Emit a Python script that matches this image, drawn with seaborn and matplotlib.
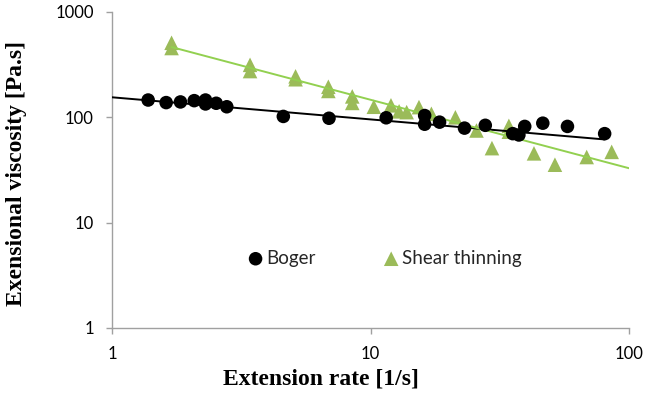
import numpy as np
import pandas as pd
import matplotlib
matplotlib.use("Agg")
import matplotlib.pyplot as plt
import seaborn as sns

# ---- data ----
boger_x = [1.38, 1.62, 1.84, 2.08, 2.30, 2.30, 2.53, 2.78, 4.60, 6.91, 11.5,
           16.2, 16.2, 18.5, 23.1, 27.8, 35.5, 37.5, 39.5, 46.4, 57.8, 80.5]
boger_y = [146, 138, 140, 144, 146, 134, 136, 126, 102, 98, 99,
           104, 86, 90, 79, 84, 70, 68, 82, 88, 82, 70]

shear_x = [1.70, 1.70, 3.42, 3.42, 5.13, 5.13, 6.87, 6.87, 8.5, 8.5, 10.3, 12.0,
           12.9, 13.8, 15.4, 17.2, 21.3, 25.7, 29.5, 34.3, 34.3, 42.9, 51.7, 68.6, 85.7]
shear_y = [510, 455, 315, 275, 245, 230, 195, 178, 158, 137, 126, 130,
           114, 112, 125, 108, 100, 75, 51, 83, 73, 45.5, 35.5, 42, 47]

# power-law trendlines y = a * x^b  (coefficient, exponent, x start, x end)
boger_trend = (155.0, -0.21, 1.0, 80.5)
shear_trend = (656.0, -0.65, 1.70, 100.0)

series_names = ["Boger", "Shear thinning"]
x_ticks = [1, 10, 100]
y_ticks = [1, 10, 100, 1000]
x_label = "Extension rate [1/s]"
y_label = "Exensional viscosity [Pa.s]"

# ---- styling ----
sns.set_theme(style="white")
plt.rcParams["font.family"] = ["Lato", "DejaVu Sans"]

BLACK = "#000000"
GREEN_PT = "#9BBB59"
GREEN_LN = "#92D050"
SPINE = "#A0A0A0"

W, H = 646, 397
fig = plt.figure(figsize=(W / 100, H / 100), dpi=100)
ax = fig.add_axes([112 / W, (H - 328) / H, 517 / W, 316 / H])

pts = pd.concat([
    pd.DataFrame({"x": boger_x, "y": boger_y, "series": series_names[0]}),
    pd.DataFrame({"x": shear_x, "y": shear_y, "series": series_names[1]}),
])


def trend_frame(params, name):
    a, b, x0, x1 = params
    xs = np.geomspace(x0, x1, 60)
    return pd.DataFrame({"x": xs, "y": a * xs ** b, "series": name})


lines = pd.concat([trend_frame(boger_trend, series_names[0]),
                   trend_frame(shear_trend, series_names[1])])

sns.lineplot(data=lines, x="x", y="y", hue="series",
             palette={series_names[0]: BLACK, series_names[1]: GREEN_LN},
             linewidth=1.4, legend=False, ax=ax, zorder=3)

sns.scatterplot(data=pts[pts.series == series_names[1]], x="x", y="y",
                marker="^", s=110, color=GREEN_PT, edgecolor="none",
                ax=ax, zorder=2, label=series_names[1])
sns.scatterplot(data=pts[pts.series == series_names[0]], x="x", y="y",
                marker="o", s=95, color=BLACK, edgecolor="none",
                ax=ax, zorder=4, label=series_names[0])

ax.set_xscale("log")
ax.set_yscale("log")
ax.set_xlim(1, 100)
ax.set_ylim(1, 1000)
ax.set_xticks(x_ticks)
ax.set_xticklabels([str(t) for t in x_ticks])
ax.set_yticks(y_ticks)
ax.set_yticklabels([str(t) for t in y_ticks])
ax.minorticks_off()

for s in ["top", "right"]:
    ax.spines[s].set_visible(False)
for s in ["left", "bottom"]:
    ax.spines[s].set_color(SPINE)
    ax.spines[s].set_linewidth(1.0)

ax.tick_params(axis="both", which="major", direction="out", length=4,
               width=1.0, color=SPINE, labelsize=12, labelcolor="#000000",
               pad=9, left=True, bottom=True)

ax.set_xlabel(x_label, fontsize=17, fontweight="bold",
              family="Liberation Serif", color="#000000")
ax.set_ylabel(y_label, fontsize=17, fontweight="bold",
              family="Liberation Serif", color="#000000")
ax.xaxis.set_label_coords(0.404, -0.128)
ax.yaxis.set_label_coords(-0.164, 0.49)

handles, labels = ax.get_legend_handles_labels()
order = [labels.index(series_names[0]), labels.index(series_names[1])]
leg = ax.legend([handles[i] for i in order], [labels[i] for i in order],
                loc="center left", bbox_to_anchor=(0.265, 0.221), ncol=2,
                frameon=False, fontsize=13.5, handlelength=0.7,
                handletextpad=0.2, columnspacing=3.7, borderpad=0,
                borderaxespad=0, scatterpoints=1)

fig.savefig("out.png", dpi=100)
